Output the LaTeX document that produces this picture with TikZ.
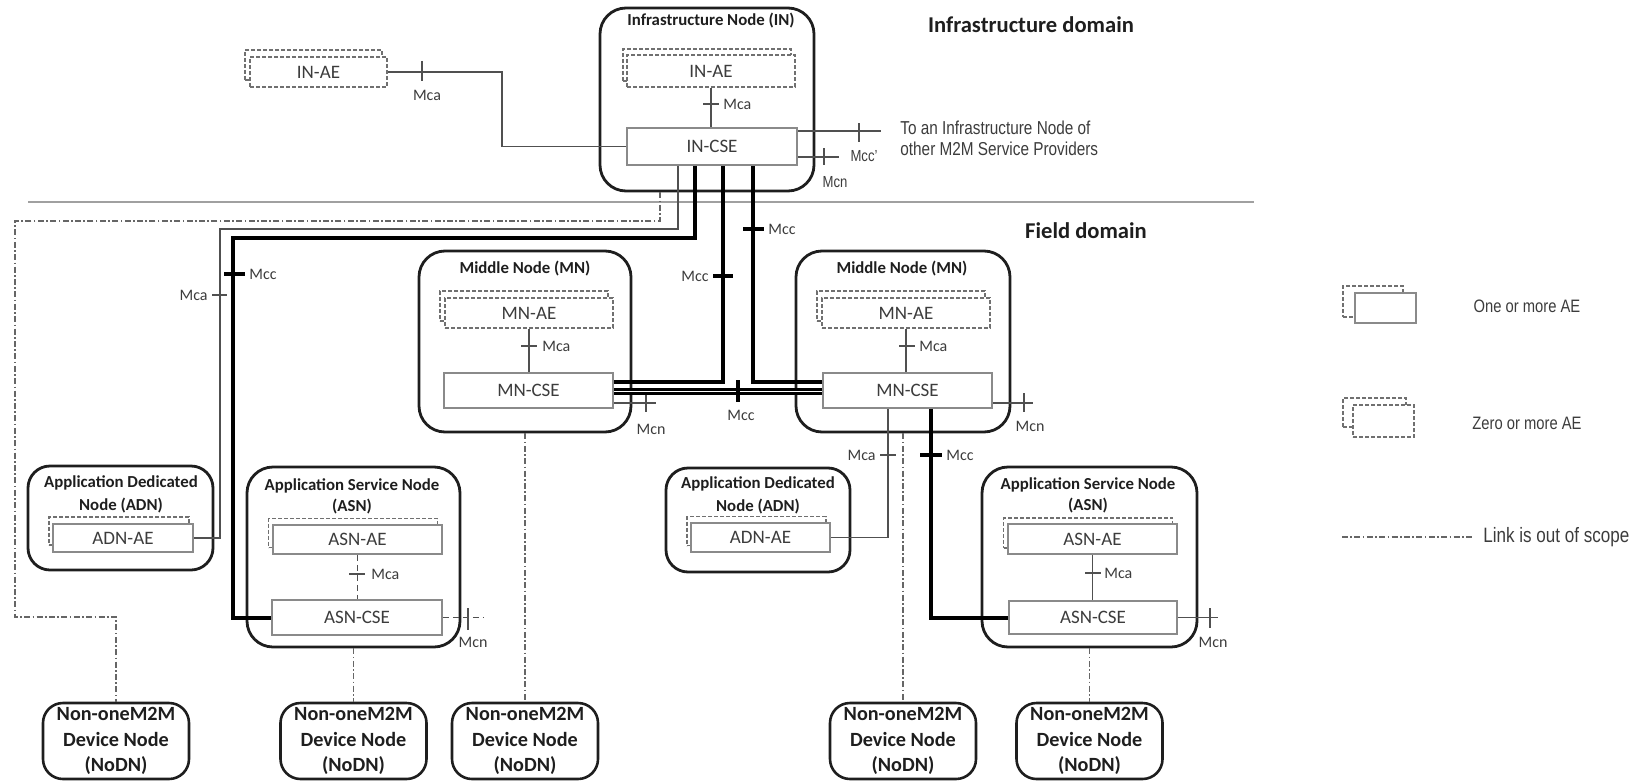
\documentclass[tikz,border=0pt]{standalone}
\usepackage{fontspec}
\setmainfont{Carlito}
\newfontfamily\narrowsans{Liberation Sans}[FakeStretch=0.82]
\usetikzlibrary{calc}
\definecolor{ink}{HTML}{1E1E1E}
\definecolor{boxtext}{HTML}{3C3C3C}
\definecolor{frameg}{HTML}{8A8A8A}
\definecolor{aeg}{HTML}{707070}
\definecolor{linkg}{HTML}{505050}
\definecolor{sepg}{HTML}{A0A0A0}
\begin{document}
\begin{tikzpicture}[x=0.5pt,y=-0.5pt,
  grp/.style={draw=ink, line width=1.4pt, rounded corners=13pt, inner sep=0pt},
  grptitle/.style={font=\bfseries\fontsize{8.4}{10.6}\selectfont, text=ink, align=center, inner sep=0pt},
  nodn/.style={draw=ink, line width=1.3pt, rounded corners=10pt, minimum width=73pt, minimum height=38pt, inner sep=0pt, align=center, font=\bfseries\fontsize{10.1}{12.7}\selectfont, text=ink},
  cse/.style={draw=frameg, line width=0.75pt, fill=white, inner sep=0pt, font=\fontsize{9.5}{11}\selectfont, text=boxtext},
  aesolid/.style={cse},
  aedash/.style={cse, draw=aeg, dash pattern=on 2pt off 1pt},
  aeshadow/.style={draw=aeg, line width=0.75pt, dash pattern=on 2pt off 1pt, fill=white, inner sep=0pt},
  lnthin/.style={draw=linkg, line width=0.75pt},
  lnthick/.style={draw=black, line width=2pt},
  lnmesh/.style={draw=black, line width=1.6pt, double=white, double distance=0.7pt},
  lnscope/.style={draw=black!60, line width=0.6pt, dash pattern=on 3pt off 1.2pt on 0.8pt off 1.2pt},
  tk/.style={draw=linkg, line width=0.75pt},
  tkthick/.style={draw=black, line width=2pt},
  rp/.style={font=\fontsize{8}{9}\selectfont, text=boxtext, inner sep=0pt},
  narrow/.style={font=\narrowsans\fontsize{9.35}{11}\selectfont, text=boxtext, inner sep=0pt},
  domaintext/.style={font=\bfseries\fontsize{11.3}{13}\selectfont, text=ink, inner sep=0pt},
]
\useasboundingbox (0,0) rectangle (1652,781);

% domain separator and domain captions
\draw[draw=sepg, line width=1pt] (28,202) -- (1254,202);
\node[domaintext] (infdom) at (1031,25) {Infrastructure domain};
\node[domaintext] (flddom) at (1086,231) {Field domain};

% ---------- Infrastructure Node ----------
\node[grp, minimum width=107pt, minimum height=91.5pt] (in) at (707,99.5) {};
\node[grptitle] (intitle) at (711,21) {Infrastructure Node (IN)};
\node[aeshadow, minimum width=84pt, minimum height=16pt] (inaes) at (707,65) {};
\node[aedash, minimum width=84pt, minimum height=16pt] (inae) at (711,71) {IN-AE};
\node[cse, minimum width=85pt, minimum height=18.5pt] (incse) at (712,146.5) {IN-CSE};
\draw[lnthin] (inae.south) -- (inae.south |- incse.north);
\draw[tk] (703,104) -- (719,104);
\node[rp, anchor=west] (inmca) at (723,104) {Mca};

% link towards other service providers
\coordinate (mccpend) at (881,131);
\draw[lnthin] ([yshift=7.75pt]incse.east) -- (mccpend);
\draw[tk] (859,123) -- (859,142);
\node[narrow, font=\narrowsans\fontsize{8}{9}\selectfont] (mccplbl) at (864,156) {Mcc’};
\coordinate (inmcnend) at (839,157);
\draw[lnthin] ([yshift=-5.25pt]incse.east) -- (inmcnend);
\draw[tk] (824,148) -- (824,165);
\node[narrow, font=\narrowsans\fontsize{8}{9}\selectfont] (inmcnlbl) at (835,182) {Mcn};
\node[narrow, anchor=west] (toin1) at (900,128) {To an Infrastructure Node of};
\node[narrow, anchor=west] (toin2) at (900,149) {other M2M Service Providers};

% standalone IN-AE
\node[aeshadow, minimum width=68.5pt, minimum height=15pt] (inaeos) at (313.5,65) {};
\node[aedash, minimum width=68.5pt, minimum height=15pt] (inaeo) at (318.5,72) {IN-AE};
\draw[lnthin] (inaeo.east) -- (502,72) |- (incse.west);
\draw[tk] (422,61) -- (422,81);
\node[rp] (inaeomca) at (427,95) {Mca};

% ---------- Middle Nodes ----------
\node[grp, minimum width=106pt, minimum height=90.5pt] (mn1) at (525,341.5) {};
\node[grptitle] (mn1t) at (525,269) {Middle Node (MN)};
\node[aeshadow, minimum width=84pt, minimum height=15pt] (mnae1s) at (524,306) {};
\node[aedash, minimum width=84pt, minimum height=15pt] (mnae1) at (529,313) {MN-AE};
\node[cse, minimum width=84.5pt, minimum height=17.5pt] (mncse1) at (528.5,390.5) {MN-CSE};
\draw[lnthin] (mnae1.south) -- (mnae1.south |- mncse1.north);
\draw[tk] (521,346) -- (537,346);
\node[rp, anchor=west] (mn1mca) at (542,346) {Mca};

\node[grp, minimum width=107pt, minimum height=90.5pt] (mn2) at (903,341.5) {};
\node[grptitle] (mn2t) at (902,269) {Middle Node (MN)};
\node[aeshadow, minimum width=84pt, minimum height=15pt] (mnae2s) at (901,306) {};
\node[aedash, minimum width=84pt, minimum height=15pt] (mnae2) at (906,313) {MN-AE};
\node[cse, minimum width=84.5pt, minimum height=17.5pt] (mncse2) at (907.5,390.5) {MN-CSE};
\draw[lnthin] (mnae2.south) -- (mnae2.south |- mncse2.north);
\draw[tk] (899,346) -- (915,346);
\node[rp, anchor=west] (mn2mca) at (919,346) {Mca};

% ---------- Application Dedicated Nodes ----------
\node[grp, rounded corners=11pt, minimum width=92.5pt, minimum height=52pt] (adn1) at (120.5,518) {};
\node[grptitle, font=\bfseries\fontsize{8.4}{11.5}\selectfont] (adn1t) at (121,494) {Application Dedicated\\Node (ADN)};
\node[aeshadow, minimum width=70pt, minimum height=14pt] (adnae1s) at (119,531) {};
\node[aesolid, minimum width=70pt, minimum height=14pt] (adnae1) at (123,538) {ADN-AE};

\node[grp, rounded corners=11pt, minimum width=92pt, minimum height=52pt] (adn2) at (758,520) {};
\node[grptitle, font=\bfseries\fontsize{8.4}{11.5}\selectfont] (adn2t) at (758,495) {Application Dedicated\\Node (ADN)};
\node[aeshadow, minimum width=69.5pt, minimum height=14.5pt] (adnae2s) at (756.5,531) {};
\node[aesolid, minimum width=69.5pt, minimum height=14.5pt] (adnae2) at (760.5,537.5) {ADN-AE};

% ---------- Application Service Nodes ----------
\node[grp, minimum width=106.5pt, minimum height=90pt] (asn1) at (353.5,557) {};
\node[grptitle] (asn1t) at (352,496) {Application Service Node\\(ASN)};
\node[aeshadow, minimum width=84.5pt, minimum height=14.5pt] (asnae1s) at (353,533) {};
\node[aesolid, minimum width=84.5pt, minimum height=14.5pt] (asnae1) at (357.5,539.5) {ASN-AE};
\node[cse, minimum width=85pt, minimum height=17.5pt] (asncse1) at (357,617.5) {ASN-CSE};
\draw[lnthin, densely dashed] (asnae1.south) -- (asnae1.south |- asncse1.north);
\draw[tk] (349,574) -- (365,574);
\node[rp, anchor=west] (asn1mca) at (371,574) {Mca};
\coordinate (asn1mcnend) at (483,617.5);
\draw[lnthin, densely dashed] (asncse1.east) -- (asn1mcnend);
\draw[tk] (468,608) -- (468,630);
\node[rp] (asn1mcn) at (473,642) {Mcn};

\node[grp, minimum width=107.5pt, minimum height=90pt] (asn2) at (1089.5,557) {};
\node[grptitle] (asn2t) at (1088,495) {Application Service Node\\(ASN)};
\node[aeshadow, minimum width=84.5pt, minimum height=15pt] (asnae2s) at (1088,533) {};
\node[aesolid, minimum width=84.5pt, minimum height=15pt] (asnae2) at (1092.5,539) {ASN-AE};
\node[cse, minimum width=84pt, minimum height=16.5pt] (asncse2) at (1093,617.5) {ASN-CSE};
\draw[lnthin] (asnae2.south) -- (asnae2.south |- asncse2.north);
\draw[tk] (1085,573) -- (1101,573);
\node[rp, anchor=west] (asn2mca) at (1104,573) {Mca};
\coordinate (asn2mcnend) at (1218,617.5);
\draw[lnthin] (asncse2.east) -- (asn2mcnend);
\draw[tk] (1210,608) -- (1210,628);
\node[rp] (asn2mcn) at (1213,642) {Mcn};

% ---------- Non-oneM2M Device Nodes ----------
\node[nodn] (nodn1) at (116,741) {Non-oneM2M\\Device Node\\(NoDN)};
\node[nodn] (nodn2) at (353.5,741) {Non-oneM2M\\Device Node\\(NoDN)};
\node[nodn] (nodn3) at (525,741) {Non-oneM2M\\Device Node\\(NoDN)};
\node[nodn] (nodn4) at (903,741) {Non-oneM2M\\Device Node\\(NoDN)};
\node[nodn] (nodn5) at (1089.5,741) {Non-oneM2M\\Device Node\\(NoDN)};

% ---------- out-of-scope links ----------
\draw[lnscope] ([xshift=-23.5pt]in.south) |- (15,221) |- (116,617) -- (nodn1.north);
\draw[lnscope] (asn1.south) -- (nodn2.north);
\draw[lnscope] (mn1.south) -- (nodn3.north);
\draw[lnscope] (mn2.south) -- (nodn4.north);
\draw[lnscope] (asn2.south) -- (nodn5.north);

% ---------- reference points from IN-CSE ----------
\draw[lnthin] ([xshift=-17pt]incse.south) |- (220,229) |- (adnae1.east);
\draw[tk] (212,295) -- (227,295);
\node[rp, anchor=east] (adn1mca) at (208,295) {Mca};

\draw[lnthick] ([xshift=-8.5pt]incse.south) |- (233,238) |- (asncse1.west);
\draw[tkthick] (224,274) -- (245,274);
\node[rp, anchor=west] (asn1mcc) at (249,274) {Mcc};

\draw[lnthick] ([xshift=5.5pt]incse.south) |- ([yshift=4.25pt]mncse1.east);
\draw[tkthick] (713,276) -- (733,276);
\node[rp, anchor=east] (mn1mcc) at (709,276) {Mcc};

\draw[lnthick] ([xshift=20.5pt]incse.south) |- ([yshift=4.25pt]mncse2.west);
\draw[tkthick] (743,229) -- (764,229);
\node[rp, anchor=west] (mn2mcc) at (768,229) {Mcc};

% MN-CSE to MN-CSE
\draw[lnmesh] ([yshift=-0.5pt]mncse1.east) -- ([yshift=-0.5pt]mncse2.west);
\draw[tkthick] (738,380) -- (738,402);
\node[rp] (mnmnmcc) at (741,415) {Mcc};

% Mcn stubs on the middle nodes
\coordinate (mn1mcnend) at (656,403);
\draw[lnthin] ([yshift=-6.25pt]mncse1.east) -- (mn1mcnend);
\draw[tk] (646,395) -- (646,412);
\node[rp] (mn1mcn) at (651,429) {Mcn};
\coordinate (mn2mcnend) at (1033,403);
\draw[lnthin] ([yshift=-6.25pt]mncse2.east) -- (mn2mcnend);
\draw[tk] (1024,393) -- (1024,412);
\node[rp] (mn2mcn) at (1030,426) {Mcn};

% links below the right middle node
\draw[lnthin] ([xshift=-9.75pt]mncse2.south) |- (adnae2.east);
\draw[tk] (880,455) -- (896,455);
\node[rp, anchor=east] (adn2mca) at (876,455) {Mca};
\draw[lnthick] ([xshift=11.75pt]mncse2.south) |- (asncse2.west);
\draw[tkthick] (920,455) -- (942,455);
\node[rp, anchor=west] (asn2mcc) at (946,455) {Mcc};

% ---------- legend ----------
\node[aeshadow, minimum width=30pt, minimum height=15.5pt] (lg1s) at (1373,301.5) {};
\node[aesolid, minimum width=30.5pt, minimum height=15pt] (lg1) at (1385.5,308) {};
\node[narrow, font=\narrowsans\fontsize{9}{10}\selectfont] (lg1t) at (1527,306) {One or more AE};
\node[aeshadow, minimum width=31.5pt, minimum height=14.5pt] (lg2s) at (1374.5,412.5) {};
\node[aedash, minimum width=30.5pt, minimum height=16pt] (lg2) at (1383.5,421) {};
\node[narrow, font=\narrowsans\fontsize{9}{10}\selectfont] (lg2t) at (1527,423) {Zero or more AE};
\coordinate (lg3a) at (1342,537);
\coordinate (lg3b) at (1472,537);
\draw[lnscope] (lg3a) -- (lg3b);
\node[narrow, anchor=west, font=\narrowsans\fontsize{10.4}{12}\selectfont] (lg3t) at (1483,537) {Link is out of scope};
\end{tikzpicture}
\end{document}
